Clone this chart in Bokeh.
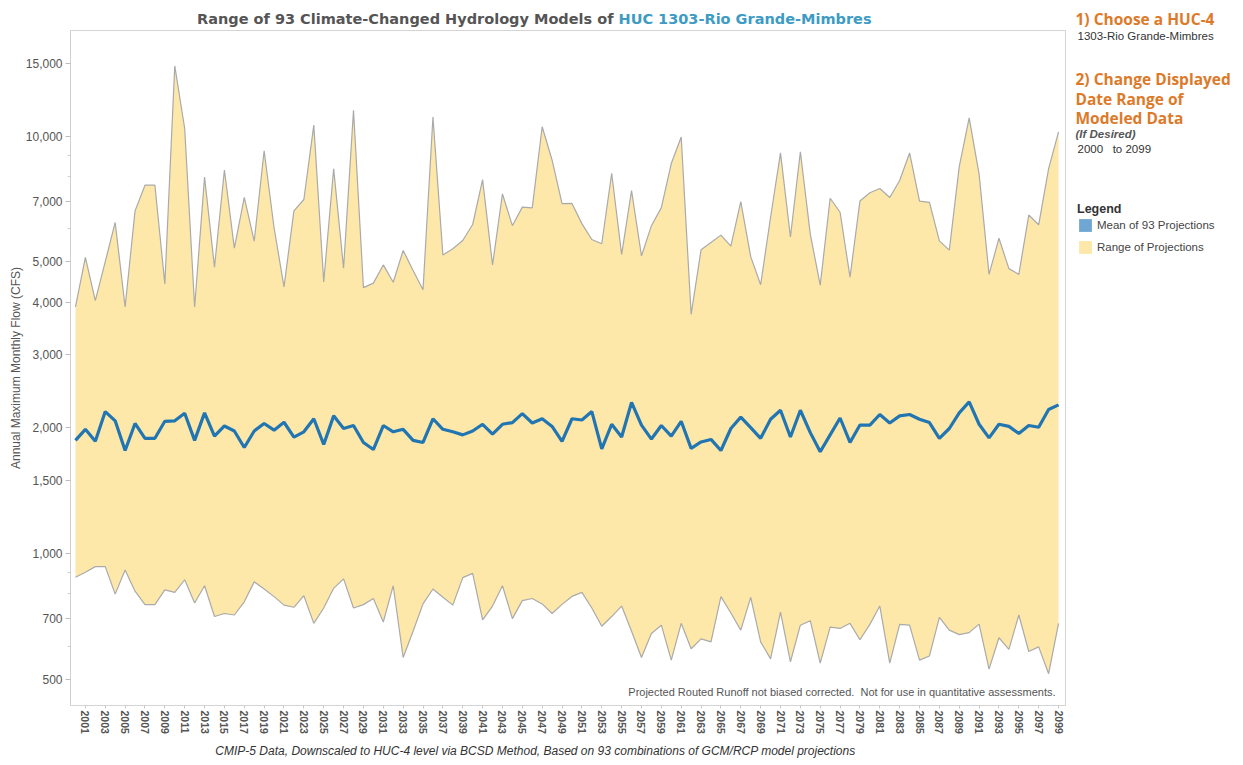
from bokeh.plotting import figure
from bokeh.layouts import row, column
from bokeh.models import (ColumnDataSource, Range1d, FixedTicker, NumeralTickFormatter,
                          Label, Legend, LegendItem)
from bokeh.embed import file_html
from bokeh.resources import INLINE

# ---------------- data ----------------
years = list(range(2000, 2100))

max_flow = [
    3900, 5130, 4040, 5010, 6220, 3900, 6630, 7640, 7640, 4430,
    14760, 10450, 3900, 7990, 4860, 8310, 5400, 7140, 5610, 9240,
    6040, 4360, 6630, 7060, 10650, 4480, 8370, 4830, 11550, 4340,
    4450, 4920, 4470, 5330, 4770, 4290, 11130, 5200, 5380, 5630,
    6150, 7880, 4920, 7280, 6110, 6770, 6740, 10550, 8770, 6900,
    6910, 6180, 5660, 5530, 8160, 5210, 7420, 5170, 6110, 6750,
    8610, 9970, 3745, 5350, 5570, 5800, 5460, 6980, 5150, 4410,
    6400, 9130, 5740, 9190, 5830, 4400, 7110, 6580, 4600, 7000,
    7330, 7500, 7140, 7840, 9130, 7000, 6950, 5620, 5340, 8470,
    11080, 8120, 4670, 5700, 4820, 4670, 6480, 6140, 8370, 10260,
]

min_flow = [
    877, 902, 930, 930, 799, 913, 812, 754, 754, 818,
    807, 865, 761, 837, 706, 718, 712, 766, 855, 822,
    788, 752, 743, 792, 680, 740, 825, 869, 740, 754,
    780, 685, 837, 563, 651, 757, 822, 785, 752, 875,
    896, 693, 748, 837, 698, 771, 780, 757, 718, 755,
    789, 807, 740, 669, 706, 748, 651, 563, 643, 673,
    555, 680, 591, 624, 614, 788, 720, 655, 785, 614,
    559, 723, 550, 673, 690, 546, 666, 661, 680, 621,
    676, 748, 546, 676, 673, 555, 568, 703, 655, 639,
    646, 677, 528, 628, 589, 712, 582, 597, 515, 680,
]

mean_flow = [
    1867, 1985, 1858, 2189, 2080, 1766, 2050, 1889, 1889, 2075,
    2080, 2169, 1867, 2174, 1911, 2022, 1967, 1795, 1967, 2050,
    1976, 2064, 1902, 1958, 2104, 1825, 2138, 1994, 2027, 1846,
    1775, 2027, 1958, 1985, 1867, 1846, 2104, 1985, 1958, 1925,
    1967, 2041, 1934, 2041, 2060, 2164, 2055, 2104, 2017, 1858,
    2104, 2090, 2189, 1782, 2041, 1902, 2304, 2032, 1881, 2027,
    1911, 2075, 1787, 1851, 1877, 1766, 1994, 2123, 2003, 1889,
    2099, 2205, 1902, 2205, 1949, 1754, 1925, 2113, 1846, 2032,
    2032, 2154, 2055, 2138, 2154, 2099, 2060, 1889, 1994, 2174,
    2309, 2041, 1893, 2041, 2017, 1939, 2027, 2008, 2215, 2272,
]

x_tick_years = list(range(2001, 2100, 2))
y_ticks = [500, 700, 1000, 1500, 2000, 3000, 4000, 5000, 7000, 10000, 15000]
y_minor_ticks = [600, 800, 900, 6000, 8000, 9000]

title_main = "Range of 93 Climate-Changed Hydrology Models of"
title_huc = "HUC 1303-Rio Grande-Mimbres"
legend_labels = ["Mean of 93 Projections", "Range of Projections"]

# ---------------- colours ----------------
ORANGE = "#dd7a2a"
GRAY_TXT = "#555555"
RANGE_FILL = "#fde8a9"
MEAN_LINE = "#2075b2"
MEAN_SWATCH = "#6fa6d3"

# ---------------- layout (page pixels) ----------------
PAGE_W, PAGE_H = 1243, 765
LEFT_W = 1066            # width of the left column (title / chart / footer)
TITLE_H = 29
MAIN_H = 709             # chart figure: page y 29 .. 738
FOOT_H = PAGE_H - TITLE_H - MAIN_H
RIGHT_W = PAGE_W - LEFT_W
MAIN_TOP = TITLE_H
FRAME_LEFT = 70
FRAME_RIGHT = 1065
FRAME_BOTTOM = 705


def text_fig(w, h, left=0, right=0):
    # frame spans page x [left, w-right]; data x == page x, data y == pixels from top
    f = figure(width=w, height=h, x_range=Range1d(left, w - right), y_range=Range1d(h, 0),
               output_backend="svg", toolbar_location=None,
               x_axis_location=None, y_axis_location=None,
               min_border_left=left, min_border_right=right,
               min_border_top=0, min_border_bottom=0,
               background_fill_color="white", border_fill_color="white")
    f.outline_line_color = None
    f.xgrid.visible = False
    f.ygrid.visible = False
    return f


def put(f, x, y, text, size, color, style="normal", font="Liberation Sans", align="left"):
    f.add_layout(Label(x=x, y=y, text=text, text_font=font, text_font_size=f"{size}px",
                       text_color=color, text_font_style=style,
                       text_align=align, text_baseline="middle"))


# ---------------- main chart ----------------
p = figure(width=LEFT_W, height=MAIN_H, output_backend="svg", toolbar_location=None,
           y_axis_type="log",
           x_range=Range1d(1999.5, 2099.7), y_range=Range1d(432, 17950),
           min_border_left=FRAME_LEFT, min_border_right=LEFT_W - FRAME_RIGHT,
           min_border_top=30 - MAIN_TOP, min_border_bottom=MAIN_TOP + MAIN_H - FRAME_BOTTOM,
           background_fill_color="white", border_fill_color="white")

src = ColumnDataSource(dict(year=years, lo=min_flow, hi=max_flow, mean=mean_flow))

p.varea(x="year", y1="lo", y2="hi", source=src, fill_color=RANGE_FILL)
p.line("year", "hi", source=src, line_color="#aaaaaa", line_width=1.2)
p.line("year", "lo", source=src, line_color="#aaaaaa", line_width=1.2)
p.line("year", "mean", source=src, line_color=MEAN_LINE, line_width=3.2)

p.xgrid.visible = False
p.ygrid.visible = False
p.outline_line_color = "#d4d4d4"

xa = p.xaxis[0]
xa.ticker = FixedTicker(ticks=x_tick_years)
xa.major_label_orientation = "vertical"
xa.major_label_text_font = "Liberation Sans"
xa.major_label_text_font_style = "bold"
xa.major_label_text_font_size = "10.5px"
xa.major_label_text_color = GRAY_TXT
xa.axis_line_color = None
xa.major_tick_line_color = "#c8c8c8"
xa.major_tick_out = 3
xa.major_tick_in = 0
xa.minor_tick_line_color = None
xa.major_label_standoff = 2

ya = p.yaxis[0]
ya.ticker = FixedTicker(ticks=y_ticks, minor_ticks=y_minor_ticks)
ya.formatter = NumeralTickFormatter(format="0,0")
ya.axis_line_color = "#cfcfcf"
ya.major_tick_line_color = "#bdbdbd"
ya.major_tick_out = 5
ya.major_tick_in = 0
ya.minor_tick_line_color = "#d0d0d0"
ya.minor_tick_out = 3
ya.minor_tick_in = 0
ya.major_label_text_font = "Liberation Sans"
ya.major_label_text_font_size = "12px"
ya.major_label_text_color = GRAY_TXT
ya.major_label_standoff = 3
ya.axis_label = "Annual Maximum Monthly Flow (CFS)"
ya.axis_label_text_font = "Liberation Sans"
ya.axis_label_text_font_style = "normal"
ya.axis_label_text_font_size = "12px"
ya.axis_label_text_color = GRAY_TXT
ya.axis_label_standoff = 0

p.add_layout(Label(x=1055 - FRAME_LEFT, y=FRAME_BOTTOM - 691, x_units="screen", y_units="screen",
                   text="Projected Routed Runoff not biased corrected.\u00a0\u00a0Not for use in quantitative assessments.",
                   text_font="Liberation Sans", text_font_size="11px", text_color=GRAY_TXT,
                   text_align="right", text_baseline="middle"))

# ---------------- title strip ----------------
t = text_fig(LEFT_W, TITLE_H, FRAME_LEFT, LEFT_W - FRAME_RIGHT)
put(t, 613, 18, title_main, 14.5, GRAY_TXT, "bold", "DejaVu Sans", "right")
put(t, 618, 18, title_huc, 14.5, "#3d9bc4", "bold", "DejaVu Sans", "left")

# ---------------- footer strip ----------------
fo = text_fig(LEFT_W, FOOT_H, FRAME_LEFT, LEFT_W - FRAME_RIGHT)
put(fo, 535, 750 - (TITLE_H + MAIN_H),
    "CMIP-5 Data, Downscaled to HUC-4 level via BCSD Method, Based on 93 combinations of GCM/RCP model projections",
    12, "#333333", "italic", "Liberation Sans", "center")

# ---------------- right panel ----------------
r = text_fig(RIGHT_W, PAGE_H)
X0 = 1075 - LEFT_W
put(r, X0, 18, "1) Choose a HUC-4", 15.5, ORANGE, "bold", "Open Sans")
put(r, X0 + 2, 35, "1303-Rio Grande-Mimbres", 11.5, "#333333")
put(r, X0, 78, "2) Change Displayed", 15.5, ORANGE, "bold", "Open Sans")
put(r, X0, 98, "Date Range of", 15.5, ORANGE, "bold", "Open Sans")
put(r, X0, 117, "Modeled Data", 15.5, ORANGE, "bold", "Open Sans")
put(r, X0, 133, "(If Desired)", 11.5, GRAY_TXT, "bold italic")
put(r, X0 + 2, 148, "2000\u00a0\u00a0\u00a0to 2099", 11.5, "#333333")

# legend swatches: same series, but their x (years) lies outside this panel's
# pixel range, so only the legend glyphs show
sw_mean = r.varea(x="year", y1="mean", y2="mean", source=src, fill_color=MEAN_SWATCH)
sw_range = r.varea(x="year", y1="lo", y2="hi", source=src, fill_color=RANGE_FILL)
legend = Legend(items=[LegendItem(label=legend_labels[0], renderers=[sw_mean]),
                       LegendItem(label=legend_labels[1], renderers=[sw_range])],
                location=(X0 + 2, PAGE_H - 255),
                title="Legend", title_text_font="Liberation Sans",
                title_text_font_style="bold", title_text_font_size="12.5px",
                title_text_color="#333333", title_standoff=1,
                label_text_font="Liberation Sans", label_text_font_size="11.5px",
                label_text_color="#444444", label_standoff=4,
                glyph_width=16, glyph_height=16, label_height=16,
                spacing=6, padding=0, margin=0,
                border_line_alpha=0, background_fill_alpha=0)
r.add_layout(legend)

layout = row(column(t, p, fo, spacing=0), r, spacing=0)

open("out.html", "w").write(file_html(layout, INLINE))
